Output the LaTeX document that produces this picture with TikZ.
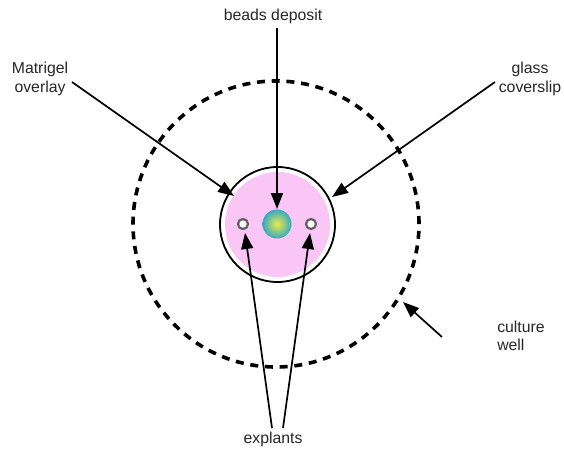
\documentclass[tikz,border=0pt]{standalone}
\usepackage{fontspec}
\setmainfont{Liberation Sans}
\usetikzlibrary{arrows.meta}
\definecolor{matrigel}{HTML}{F9C6F6}
\definecolor{beadedge}{HTML}{35AAC2}
\definecolor{beadmid}{HTML}{EEEA48}
\tikzset{
  lbl/.style={font=\fontsize{15.8}{18.5}\selectfont, align=center, inner sep=0pt, text=black!85},
  ptr/.style={line width=1.7pt, -{Triangle[length=16pt,width=12pt]}},
  explant/.style={circle, draw=gray!75!black, fill=white, line width=2.2pt, minimum size=10pt, inner sep=0pt}
}
\begin{document}
\begin{tikzpicture}[x=1pt,y=-1pt]
\useasboundingbox (0,0) rectangle (564,450);
% culture well
\node[circle, draw, minimum size=286pt, line width=3.6pt, dash pattern=on 8pt off 6.73pt, inner sep=0pt] (well) at (276,224) {};
% coverslip
\node[circle, draw, fill=white, minimum size=115pt, line width=1.8pt, inner sep=0pt] (slip) at (277.5,224.5) {};
\node[circle, fill=matrigel, minimum size=105pt, inner sep=0pt] (gel) at (277.5,224.5) {};
% bead
\node[circle, inner color=beadmid, outer color=beadedge, minimum size=29pt, inner sep=0pt] (bead) at (277,224) {};
% explants
\node[explant] (e1) at (243,224) {};
\node[explant] (e2) at (311,224) {};
% labels
\node[lbl] (tbd) at (273,16) {beads deposit};
\node[lbl] (tmo) at (40,79) {Matrigel\\overlay};
\node[lbl] (tgc) at (530,79) {glass\\coverslip};
\node[lbl, align=left] (tcw) at (521,336) {culture\\well};
\node[lbl] (tex) at (273,439) {explants};
% coordinates
\coordinate (sbd) at (277,28);
\coordinate (smo) at (72,82);
\coordinate (sgc) at (495,82);
\coordinate (scw) at (442,337);
\coordinate (sx1) at (272,428);
\coordinate (sx2) at (283,428);
\coordinate (tipmo) at (234,196);
\coordinate (tipgc) at (332,197);
\coordinate (tipcw) at (403,302);
\coordinate (tipx1) at (245,233);
\coordinate (tipx2) at (310,233);
\coordinate (tipbd) at (277,209);
% arrows
\draw[ptr] (sbd) -- (tipbd);
\draw[ptr] (smo) -- (tipmo);
\draw[ptr] (sgc) -- (tipgc);
\draw[ptr] (scw) -- (tipcw);
\draw[ptr] (sx1) -- (tipx1);
\draw[ptr] (sx2) -- (tipx2);
\end{tikzpicture}
\end{document}
